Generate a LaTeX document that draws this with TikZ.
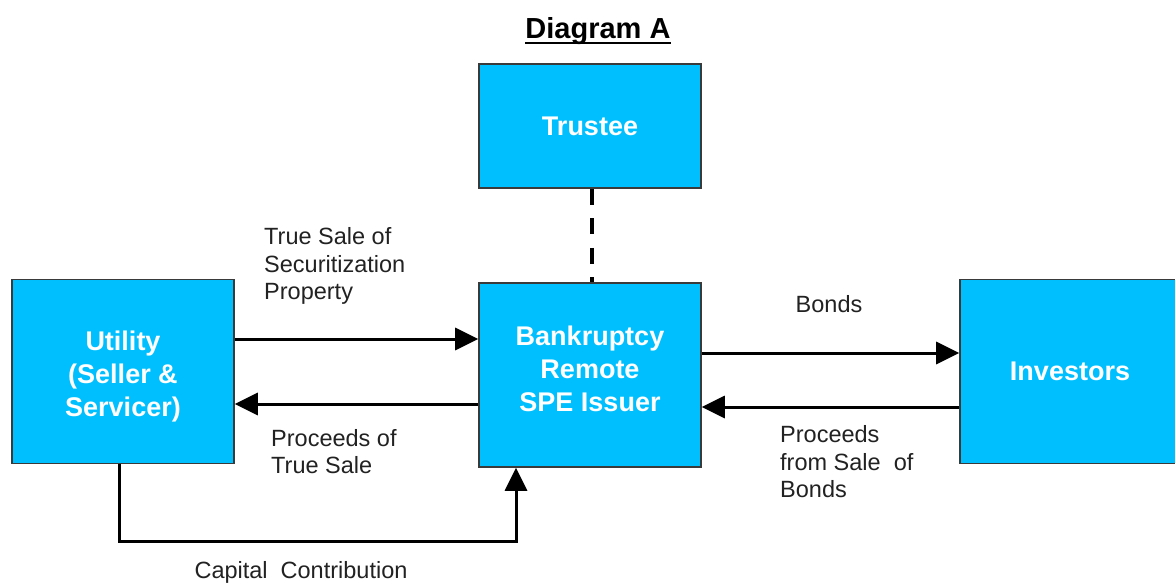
\documentclass[tikz,border=0pt]{standalone}
\usepackage{fontspec}
\setmainfont{Liberation Sans}
\usepackage{tikz}
\usetikzlibrary{arrows.meta, positioning}

\definecolor{boxblue}{HTML}{00BFFF}
\definecolor{boxline}{HTML}{3A3A3A}
\definecolor{labeltext}{HTML}{222222}

\tikzset{
    party/.style={draw=boxline, line width=1.6pt, fill=boxblue,
        minimum width=222pt, inner sep=0pt},
    partytext/.style={text=white, align=center, inner sep=0pt,
        font=\fontsize{27}{33}\selectfont\bfseries},
    flow/.style={line width=3pt, -{Triangle[length=23pt, width=22pt]}},
    note/.style={text=labeltext, inner sep=0pt, align=left,
        font=\fontsize{23.5}{27.5}\selectfont}
}

\begin{document}
\begin{tikzpicture}[x=1pt, y=-1pt]
    \fill[white] (0, 0) rectangle (1175, 584);
    \useasboundingbox (0, 0) rectangle (1175, 584);

    % title
    \node (title) [inner sep=0pt, font=\fontsize{29}{33}\selectfont\bfseries] at (598, 31) {Diagram A};
    \draw[line width=2.8pt] ([yshift=-4.5pt]title.base west) -- ([yshift=-4.5pt]title.base east);

    % parties
    \node (trustee) [party, minimum height=124pt] at (590, 126) {};
    \node (utility) [party, minimum height=184pt] at (123, 371.5) {};
    \node (spe) [party, minimum height=184pt] at (590, 375) {};
    \node (investors) [party, minimum width=220pt, minimum height=184pt] at (1070, 371.5) {};
    \node (trusteetext) [partytext] at (trustee.center) {Trustee};
    \node (utilitytext) [partytext] at ([yshift=-5.5pt]utility.center) {Utility\\(Seller \&\\Servicer)};
    \node (spetext) [partytext] at ([yshift=6.5pt]spe.center) {Bankruptcy\\Remote\\SPE Issuer};
    \node (investorstext) [partytext] at (investors.center) {Investors};
    \coordinate (cap) at (516, 541);

    % flows
    \draw[line width=3.2pt, dash pattern=on 16pt off 13.5pt] ([xshift=2pt]trustee.south) -- ([xshift=2pt]spe.north);
    \draw[flow] ([yshift=32.5pt]utility.east) -- ([yshift=32.5pt]utility.east -| spe.west);
    \draw[flow] ([yshift=-29pt]spe.west) -- ([yshift=-29pt]spe.west -| utility.east);
    \draw[flow] ([yshift=22pt]spe.east) -- ([yshift=22pt]spe.east -| investors.west);
    \draw[flow] ([yshift=-35.5pt]investors.west) -- ([yshift=-35.5pt]investors.west -| spe.east);
    \draw[flow] ([xshift=-4pt]utility.south) |- (cap) -- (cap |- spe.south);

    % labels
    \node (sale) [note, anchor=west] at (264, 266) {True Sale of\\Securitization\\Property};
    \node (proceeds) [note, anchor=west] at (271, 451.5) {Proceeds of\\True Sale};
    \node (bonds) [note] at (829, 304) {Bonds};
    \node (bondsale) [note, anchor=west] at (780, 462) {Proceeds\\from Sale\ \ of\\Bonds};
    \node (capital) [note] at (301, 572) {Capital\ \ Contribution};
\end{tikzpicture}
\end{document}
